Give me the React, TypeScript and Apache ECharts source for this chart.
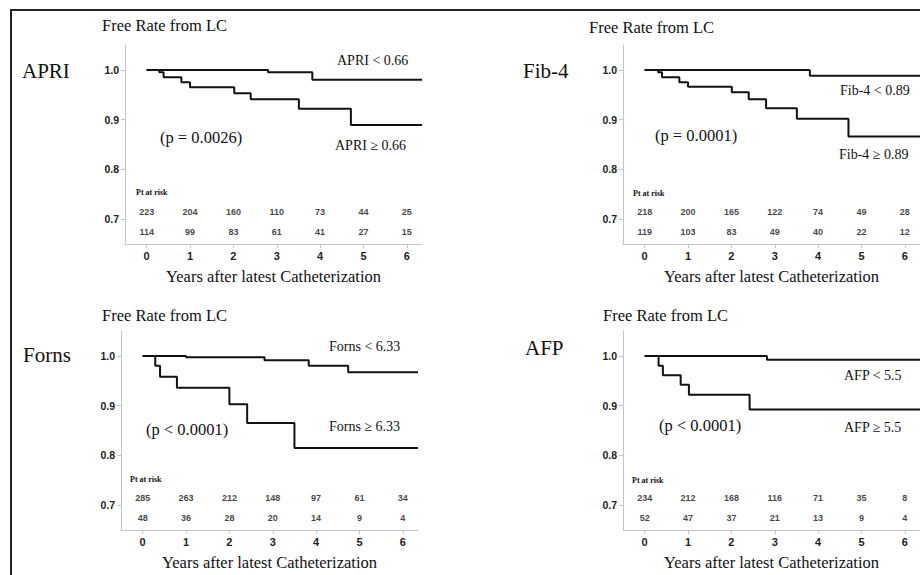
import React, { useEffect, useRef } from "react";
import * as echarts from "echarts";

// ---------- data ----------
const yearTicks = [0, 1, 2, 3, 4, 5, 6];
const rateTicks = [0.7, 0.8, 0.9, 1.0];

// APRI
const apriLowTimes = [0, 2.8, 3.82, 6.35];
const apriLowSurv = [1.0, 0.995, 0.98, 0.98];
const apriHighTimes = [0, 0.29, 0.39, 0.8, 1.0, 2.02, 2.4, 3.51, 4.71, 6.35];
const apriHighSurv = [1.0, 0.995, 0.985, 0.975, 0.965, 0.953, 0.941, 0.922, 0.889, 0.889];
const apriRiskLow = [223, 204, 160, 110, 73, 44, 25];
const apriRiskHigh = [114, 99, 83, 61, 41, 27, 15];

// Fib-4
const fibLowTimes = [0, 3.81, 6.35];
const fibLowSurv = [1.0, 0.988, 0.988];
const fibHighTimes = [0, 0.31, 0.4, 0.8, 1.0, 2.01, 2.4, 2.8, 3.51, 4.7, 6.35];
const fibHighSurv = [1.0, 0.995, 0.985, 0.975, 0.966, 0.955, 0.941, 0.923, 0.902, 0.866, 0.866];
const fibRiskLow = [218, 200, 165, 122, 74, 49, 28];
const fibRiskHigh = [119, 103, 83, 49, 40, 22, 12];

// Forns
const fornsLowTimes = [0, 1.0, 2.81, 3.83, 4.74, 6.35];
const fornsLowSurv = [1.0, 0.997, 0.991, 0.98, 0.967, 0.967];
const fornsHighTimes = [0, 0.29, 0.4, 0.79, 2.0, 2.41, 3.5, 6.35];
const fornsHighSurv = [1.0, 0.98, 0.958, 0.936, 0.903, 0.865, 0.815, 0.815];
const fornsRiskLow = [285, 263, 212, 148, 97, 61, 34];
const fornsRiskHigh = [48, 36, 28, 20, 14, 9, 4];

// AFP
const afpLowTimes = [0, 2.82, 6.35];
const afpLowSurv = [1.0, 0.992, 0.992];
const afpHighTimes = [0, 0.32, 0.42, 0.83, 1.02, 2.42, 6.35];
const afpHighSurv = [1.0, 0.98, 0.961, 0.942, 0.922, 0.892, 0.892];
const afpRiskLow = [234, 212, 168, 116, 71, 35, 8];
const afpRiskHigh = [52, 47, 37, 21, 13, 9, 4];

const riskRowValues = [0.714, 0.675];

const SERIF = "'Liberation Serif', 'Times New Roman', serif";
const SANS = "'Liberation Sans', Arial, sans-serif";
const INK = "#111111";
const AXIS = "#c4c4c4";

const grids = [
  { left: 125, top: 45, width: 297, height: 199 },
  { left: 623, top: 45, width: 297, height: 199 },
  { left: 121, top: 331, width: 297, height: 199 },
  { left: 623, top: 331, width: 297, height: 199 },
];

function kmSeries(idx: number, times: number[], surv: number[]) {
  return {
    type: "line",
    xAxisIndex: idx,
    yAxisIndex: idx,
    step: "end",
    showSymbol: false,
    symbol: "none",
    silent: true,
    clip: false,
    lineStyle: { color: INK, width: 2 },
    data: times.map((t, i) => [t, surv[i]]),
  };
}

function riskSeries(idx: number, row: number, counts: number[]) {
  return {
    type: "scatter",
    xAxisIndex: idx,
    yAxisIndex: idx,
    symbolSize: 0,
    silent: true,
    data: yearTicks.map((t, i) => [t, riskRowValues[row], counts[i]]),
    label: {
      show: true,
      position: "inside",
      align: "center",
      verticalAlign: "middle",
      fontFamily: SANS,
      fontWeight: "bold",
      fontSize: 9,
      color: "#111",
      formatter: (p: any) => String(p.value[2]),
    },
  };
}

function txt(left: number, y: number, text: string, size: number, family = SERIF, weight: any = "normal") {
  return {
    type: "text",
    left,
    top: y - size * 0.6,
    style: { text, font: `${weight} ${size}px ${family}`, fill: INK },
  };
}

export default function App() {
  const ref = useRef<HTMLDivElement>(null);
  useEffect(() => {
    document.body.style.margin = "0";
    if (!ref.current) return;
    const chart = echarts.init(ref.current, null, { renderer: "svg" });
    const xAxes = grids.map((_, i) => ({
      type: "value",
      gridIndex: i,
      min: -0.5,
      max: 6.35,
      name: "Years after latest Catheterization",
      nameLocation: "middle",
      nameGap: 24,
      nameTextStyle: { fontFamily: SERIF, fontSize: 16.5, color: INK },
      axisLine: { show: true, onZero: false, lineStyle: { color: AXIS, width: 1 } },
      axisTick: { show: true, length: 4, customValues: yearTicks, lineStyle: { color: AXIS } },
      axisLabel: {
        customValues: yearTicks,
        margin: 6,
        fontFamily: SANS,
        fontWeight: "bold",
        fontSize: 11,
        color: "#222",
      },
      splitLine: { show: false },
    }));
    const yAxes = grids.map((_, i) => ({
      type: "value",
      gridIndex: i,
      min: 0.65,
      max: 1.05,
      axisLine: { show: true, onZero: false, lineStyle: { color: AXIS, width: 1 } },
      axisTick: { show: true, length: 4, customValues: rateTicks, lineStyle: { color: AXIS } },
      axisLabel: {
        customValues: rateTicks,
        margin: 6,
        fontFamily: SANS,
        fontWeight: "bold",
        fontSize: 10.5,
        color: "#222",
        formatter: (v: number) => v.toFixed(1),
      },
      splitLine: { show: false },
    }));

    const option = {
      animation: false,
      backgroundColor: "#ffffff",
      grid: grids.map((g) => ({ ...g, containLabel: false })),
      xAxis: xAxes,
      yAxis: yAxes,
      series: [
        kmSeries(0, apriLowTimes, apriLowSurv),
        kmSeries(0, apriHighTimes, apriHighSurv),
        kmSeries(1, fibLowTimes, fibLowSurv),
        kmSeries(1, fibHighTimes, fibHighSurv),
        kmSeries(2, fornsLowTimes, fornsLowSurv),
        kmSeries(2, fornsHighTimes, fornsHighSurv),
        kmSeries(3, afpLowTimes, afpLowSurv),
        kmSeries(3, afpHighTimes, afpHighSurv),
        riskSeries(0, 0, apriRiskLow),
        riskSeries(0, 1, apriRiskHigh),
        riskSeries(1, 0, fibRiskLow),
        riskSeries(1, 1, fibRiskHigh),
        riskSeries(2, 0, fornsRiskLow),
        riskSeries(2, 1, fornsRiskHigh),
        riskSeries(3, 0, afpRiskLow),
        riskSeries(3, 1, afpRiskHigh),
      ],
      graphic: [
        {
          type: "rect",
          shape: { x: 11, y: 10, width: 1000, height: 1000 },
          style: { fill: "none", stroke: "#222", lineWidth: 2 },
          silent: true,
        },
        // panel 1
        txt(22, 73, "APRI", 21),
        txt(102, 27, "Free Rate from LC", 16.5),
        txt(337, 62, "APRI < 0.66", 14),
        txt(160, 139, "(p = 0.0026)", 16.5),
        txt(335, 147, "APRI ≥ 0.66", 14),
        txt(136, 193, "Pt at risk", 8, SERIF, "bold"),
        // panel 2
        txt(523, 73, "Fib-4", 21),
        txt(589, 29, "Free Rate from LC", 16.5),
        txt(840, 92, "Fib-4 < 0.89", 14),
        txt(655, 137, "(p = 0.0001)", 16.5),
        txt(839, 156, "Fib-4 ≥ 0.89", 14),
        txt(633, 194, "Pt at risk", 8, SERIF, "bold"),
        // panel 3
        txt(23, 357, "Forns", 21),
        txt(102, 317, "Free Rate from LC", 16.5),
        txt(329, 348, "Forns < 6.33", 14),
        txt(146, 431, "(p < 0.0001)", 16.5),
        txt(329, 428, "Forns ≥ 6.33", 14),
        txt(130, 480, "Pt at risk", 8, SERIF, "bold"),
        // panel 4
        txt(525, 350, "AFP", 21),
        txt(603, 317, "Free Rate from LC", 16.5),
        txt(844, 377, "AFP < 5.5", 14),
        txt(659, 427, "(p < 0.0001)", 16.5),
        txt(844, 429, "AFP ≥ 5.5", 14),
        txt(632, 481, "Pt at risk", 8, SERIF, "bold"),
      ],
    };
    chart.setOption(option as any);
    return () => chart.dispose();
  }, []);
  return (
    <div
      ref={ref}
      style={{ position: "absolute", left: 0, top: 0, width: 920, height: 575, background: "#fff" }}
    />
  );
}
